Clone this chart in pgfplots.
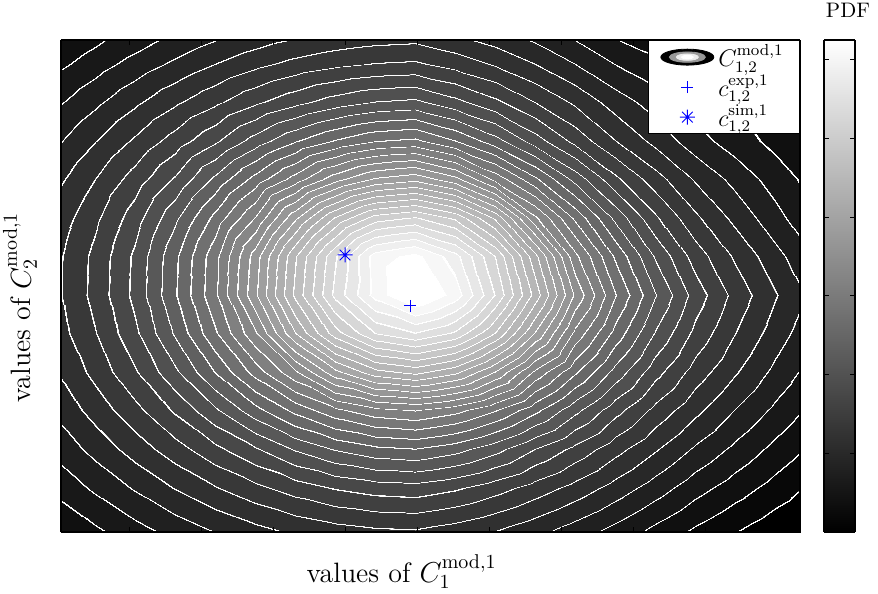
\documentclass[border=0pt]{standalone}
\usepackage{pgfplots}
\pgfplotsset{compat=1.18}

% 8-armed asterisk as in the original figure
\pgfdeclareplotmark{star8}{%
  \pgfpathmoveto{\pgfqpoint{0pt}{\pgfplotmarksize}}\pgfpathlineto{\pgfqpoint{0pt}{-\pgfplotmarksize}}%
  \pgfpathmoveto{\pgfqpoint{\pgfplotmarksize}{0pt}}\pgfpathlineto{\pgfqpoint{-\pgfplotmarksize}{0pt}}%
  \pgfpathmoveto{\pgfqpoint{0.707\pgfplotmarksize}{0.707\pgfplotmarksize}}\pgfpathlineto{\pgfqpoint{-0.707\pgfplotmarksize}{-0.707\pgfplotmarksize}}%
  \pgfpathmoveto{\pgfqpoint{-0.707\pgfplotmarksize}{0.707\pgfplotmarksize}}\pgfpathlineto{\pgfqpoint{0.707\pgfplotmarksize}{-0.707\pgfplotmarksize}}%
  \pgfusepathqstroke}

% stepped gray map, a thin white band at every contour level (pos = level + 3)
\pgfplotsset{colormap={contourgray}{
gray(0pt)=(0)
gray(3.975pt)=(0) gray(3.98pt)=(1) gray(4.025pt)=(1) gray(4.03pt)=(0.03125)
gray(4.975pt)=(0.03125) gray(4.98pt)=(1) gray(5.025pt)=(1) gray(5.03pt)=(0.0625)
gray(5.975pt)=(0.0625) gray(5.98pt)=(1) gray(6.025pt)=(1) gray(6.03pt)=(0.09375)
gray(6.975pt)=(0.09375) gray(6.98pt)=(1) gray(7.025pt)=(1) gray(7.03pt)=(0.125)
gray(7.975pt)=(0.125) gray(7.98pt)=(1) gray(8.025pt)=(1) gray(8.03pt)=(0.15625)
gray(8.97pt)=(0.15625) gray(8.975pt)=(1) gray(9.03pt)=(1) gray(9.035pt)=(0.1875)
gray(9.97pt)=(0.1875) gray(9.975pt)=(1) gray(10.03pt)=(1) gray(10.035pt)=(0.21875)
gray(10.97pt)=(0.21875) gray(10.975pt)=(1) gray(11.03pt)=(1) gray(11.035pt)=(0.25)
gray(11.96pt)=(0.25) gray(11.965pt)=(1) gray(12.04pt)=(1) gray(12.045pt)=(0.28125)
gray(12.96pt)=(0.28125) gray(12.965pt)=(1) gray(13.04pt)=(1) gray(13.045pt)=(0.3125)
gray(13.96pt)=(0.3125) gray(13.965pt)=(1) gray(14.04pt)=(1) gray(14.045pt)=(0.34375)
gray(14.96pt)=(0.34375) gray(14.965pt)=(1) gray(15.04pt)=(1) gray(15.045pt)=(0.375)
gray(15.945pt)=(0.375) gray(15.95pt)=(1) gray(16.055pt)=(1) gray(16.06pt)=(0.40625)
gray(16.945pt)=(0.40625) gray(16.95pt)=(1) gray(17.055pt)=(1) gray(17.06pt)=(0.4375)
gray(17.945pt)=(0.4375) gray(17.95pt)=(1) gray(18.055pt)=(1) gray(18.06pt)=(0.46875)
gray(18.945pt)=(0.46875) gray(18.95pt)=(1) gray(19.055pt)=(1) gray(19.06pt)=(0.5)
gray(19.945pt)=(0.5) gray(19.95pt)=(1) gray(20.055pt)=(1) gray(20.06pt)=(0.53125)
gray(20.93pt)=(0.53125) gray(20.935pt)=(1) gray(21.07pt)=(1) gray(21.075pt)=(0.5625)
gray(21.93pt)=(0.5625) gray(21.935pt)=(1) gray(22.07pt)=(1) gray(22.075pt)=(0.59375)
gray(22.93pt)=(0.59375) gray(22.935pt)=(1) gray(23.07pt)=(1) gray(23.075pt)=(0.625)
gray(23.93pt)=(0.625) gray(23.935pt)=(1) gray(24.07pt)=(1) gray(24.075pt)=(0.65625)
gray(24.93pt)=(0.65625) gray(24.935pt)=(1) gray(25.07pt)=(1) gray(25.075pt)=(0.6875)
gray(25.93pt)=(0.6875) gray(25.935pt)=(1) gray(26.07pt)=(1) gray(26.075pt)=(0.71875)
gray(26.93pt)=(0.71875) gray(26.935pt)=(1) gray(27.07pt)=(1) gray(27.075pt)=(0.75)
gray(27.93pt)=(0.75) gray(27.935pt)=(1) gray(28.07pt)=(1) gray(28.075pt)=(0.78125)
gray(28.93pt)=(0.78125) gray(28.935pt)=(1) gray(29.07pt)=(1) gray(29.075pt)=(0.8125)
gray(29.93pt)=(0.8125) gray(29.935pt)=(1) gray(30.07pt)=(1) gray(30.075pt)=(0.84375)
gray(30.93pt)=(0.84375) gray(30.935pt)=(1) gray(31.07pt)=(1) gray(31.075pt)=(0.875)
gray(31.93pt)=(0.875) gray(31.935pt)=(1) gray(32.07pt)=(1) gray(32.075pt)=(0.90625)
gray(32.93pt)=(0.90625) gray(32.935pt)=(1) gray(33.07pt)=(1) gray(33.075pt)=(0.9375)
gray(33.93pt)=(0.9375) gray(33.935pt)=(1) gray(34.07pt)=(1) gray(34.075pt)=(0.96875)
gray(34.995pt)=(0.96875) gray(35pt)=(1)
gray(38pt)=(1)
}}

\begin{document}
\begin{tikzpicture}
% filled contour field
\begin{axis}[
    at={(0pt,0pt)}, anchor=south west,
    scale only axis,
    width=369.5pt, height=246pt,
    view={0}{90},
    xmin=0.15, xmax=18.625,
    ymin=0.844, ymax=13.623,
    zmin=-5, zmax=40,
    xtick={1.85,3.65,5.45,7.25,9.05,10.85,12.65,14.45,16.25,18.05},
    xticklabels={},
    ytick=\empty, ztick=\empty,
    tick align=inside,
    major tick length=2.5pt,
    tick style={black, line width=0.4pt},
    axis line style={line width=0.6pt},
    colormap name=contourgray,
    point meta min=-3, point meta max=35,
    clip=true,
    xlabel={values of $C_1^{\mathrm{mod},1}$},
    ylabel={values of $C_2^{\mathrm{mod},1}$},
    label style={font=\fontsize{14}{17}\selectfont},
    xlabel style={at={(axis description cs:0.461,-0.0813)}, anchor=center},
    ylabel style={at={(axis description cs:-0.0555,0.457)}, anchor=center},
]
% PDF values on the grid (columns every 40 px, rows every 38.5 px)
\addplot3[surf, shader=interp] coordinates {
(0,0,1.14) (1,0,1.84) (2,0,2.49) (3,0,3.09) (4,0,3.70) (5,0,4.21) (6,0,4.63) (7,0,4.93) (8,0,5.13) (9,0,5.20) (10,0,4.84) (11,0,4.35) (12,0,3.74) (13,0,3.01) (14,0,2.29) (15,0,1.48) (16,0,0.66) (17,0,0.01) (18,0,-0.65) (19,0,-1.28)

(0,1,2.21) (1,1,2.97) (2,1,3.79) (3,1,4.55) (4,1,5.26) (5,1,5.90) (6,1,6.44) (7,1,6.85) (8,1,7.10) (9,1,7.18) (10,1,6.81) (11,1,6.26) (12,1,5.56) (13,1,4.75) (14,1,3.88) (15,1,2.92) (16,1,2.01) (17,1,1.22) (18,1,0.48) (19,1,-0.22)

(0,2,3.23) (1,2,4.19) (2,2,5.11) (3,2,6.05) (4,2,6.92) (5,2,7.72) (6,2,8.46) (7,2,9.07) (8,2,9.45) (9,2,9.58) (10,2,9.15) (11,2,8.43) (12,2,7.56) (13,2,6.63) (14,2,5.59) (15,2,4.51) (16,2,3.40) (17,2,2.49) (18,2,1.61) (19,2,0.73)

(0,3,4.27) (1,3,5.34) (2,3,6.46) (3,3,7.56) (4,3,8.73) (5,3,9.87) (6,3,11.11) (7,3,12.09) (8,3,12.74) (9,3,12.97) (10,3,12.39) (11,3,11.37) (12,3,9.99) (13,3,8.71) (14,3,7.38) (15,3,6.12) (16,3,4.85) (17,3,3.76) (18,3,2.71) (19,3,1.73)

(0,4,5.16) (1,4,6.42) (2,4,7.69) (3,4,9.17) (4,4,10.83) (5,4,12.64) (6,4,14.32) (7,4,15.75) (8,4,16.71) (9,4,17.06) (10,4,16.38) (11,4,15.09) (12,4,13.29) (13,4,11.30) (14,4,9.38) (15,4,7.71) (16,4,6.28) (17,4,4.97) (18,4,3.79) (19,4,2.64)

(0,5,5.94) (1,5,7.31) (2,5,8.89) (3,5,10.79) (4,5,13.04) (5,5,15.41) (6,5,17.81) (7,5,20.69) (8,5,22.63) (9,5,23.30) (10,5,22.25) (11,5,19.94) (12,5,16.76) (13,5,14.16) (14,5,11.64) (15,5,9.38) (16,5,7.56) (17,5,6.11) (18,5,4.74) (19,5,3.47)

(0,6,6.48) (1,6,7.95) (2,6,9.79) (3,6,12.16) (4,6,14.85) (5,6,17.83) (6,6,21.98) (7,6,25.56) (8,6,28.03) (9,6,28.98) (10,6,27.82) (11,6,24.98) (12,6,20.92) (13,6,16.72) (14,6,13.66) (15,6,10.94) (16,6,8.73) (17,6,7.02) (18,6,5.53) (19,6,4.17)

(0,7,6.75) (1,7,8.33) (2,7,10.30) (3,7,12.90) (4,7,15.80) (5,7,19.80) (6,7,24.24) (7,7,28.30) (8,7,31.40) (9,7,33.40) (10,7,31.60) (11,7,27.95) (12,7,23.59) (13,7,18.81) (14,7,15.08) (15,7,12.08) (16,7,9.57) (17,7,7.66) (18,7,6.09) (19,7,4.65)

(0,8,6.71) (1,8,8.27) (2,8,10.21) (3,8,12.78) (4,8,15.66) (5,8,19.49) (6,8,23.88) (7,8,27.87) (8,8,31.50) (9,8,32.35) (10,8,30.39) (11,8,26.98) (12,8,22.29) (13,8,17.27) (14,8,13.84) (15,8,10.89) (16,8,8.55) (17,8,6.84) (18,8,5.34) (19,8,3.98)

(0,9,6.34) (1,9,7.78) (2,9,9.55) (3,9,11.79) (4,9,14.33) (5,9,17.07) (6,9,20.82) (7,9,24.14) (8,9,26.51) (9,9,27.14) (10,9,25.82) (11,9,22.85) (12,9,18.23) (13,9,14.79) (14,9,11.75) (15,9,9.19) (16,9,7.22) (17,9,5.72) (18,9,4.36) (19,9,3.06)

(0,10,5.67) (1,10,7.00) (2,10,8.46) (3,10,10.13) (4,10,12.24) (5,10,14.38) (6,10,16.46) (7,10,18.63) (8,10,20.16) (9,10,20.71) (10,10,19.35) (11,10,16.70) (12,10,14.22) (13,10,11.64) (14,10,9.26) (15,10,7.44) (16,10,5.89) (17,10,4.68) (18,10,3.55) (19,10,2.56)

(0,11,4.79) (1,11,5.97) (2,11,7.18) (3,11,8.46) (4,11,9.84) (5,11,11.45) (6,11,12.92) (7,11,14.11) (8,11,14.98) (9,11,15.26) (10,11,14.05) (11,11,12.45) (12,11,10.51) (13,11,8.69) (14,11,7.04) (15,11,5.71) (16,11,4.44) (17,11,3.50) (18,11,2.71) (19,11,1.91)

(0,12,3.78) (1,12,4.78) (2,12,5.81) (3,12,6.83) (4,12,7.79) (5,12,8.81) (6,12,9.69) (7,12,10.48) (8,12,11.04) (9,12,11.24) (10,12,10.32) (11,12,9.25) (12,12,7.99) (13,12,6.81) (14,12,5.53) (15,12,4.55) (16,12,3.56) (17,12,2.95) (18,12,2.33) (19,12,1.78)

(0,13,2.68) (1,13,3.54) (2,13,4.40) (3,13,5.22) (4,13,6.01) (5,13,6.72) (6,13,7.32) (7,13,7.76) (8,13,8.06) (9,13,8.17) (10,13,7.61) (11,13,6.89) (12,13,6.01) (13,13,5.01) (14,13,3.99) (15,13,3.28) (16,13,2.65) (17,13,2.21) (18,13,1.88) (19,13,1.51)

(0,14,1.58) (1,14,2.30) (2,14,2.97) (3,14,3.68) (4,14,4.32) (5,14,4.86) (6,14,5.30) (7,14,5.65) (8,14,5.87) (9,14,5.98) (10,14,5.51) (11,14,4.89) (12,14,4.18) (13,14,3.36) (14,14,2.49) (15,14,2.10) (16,14,1.69) (17,14,1.51) (18,14,1.32) (19,14,1.20)
};
\end{axis}

% markers and legend on a 2D overlay with the same limits
\begin{axis}[
    at={(0pt,0pt)}, anchor=south west,
    scale only axis,
    width=369.5pt, height=246pt,
    xmin=0.15, xmax=18.625,
    ymin=0.844, ymax=13.623,
    hide axis,
    legend style={at={(1,1)}, anchor=north east, draw=black, fill=white,
        line width=0.4pt, font=\fontsize{11.5}{13}\selectfont,
        inner xsep=6pt, inner ysep=0pt, row sep=-1.5pt},
    legend cell align=left,
]
\addlegendimage{legend image code/.code={
    \fill[black] (0.3cm,0cm) ellipse [x radius=13.25pt, y radius=4pt];
    \fill[gray!80] (0.3cm,0cm) ellipse [x radius=9pt, y radius=2.6pt];
    \fill[gray!15] (0.3cm,0cm) ellipse [x radius=5.5pt, y radius=1.6pt];
    \fill[white] (0.3cm,0cm) ellipse [x radius=3pt, y radius=0.9pt];
}}
\addlegendentry{$C^{\mathrm{mod},1}_{1,2}$}

\addplot[only marks, color=blue, mark=+, mark size=3pt, mark options={line width=0.5pt, draw=blue},
    legend image code/.code={
        \draw[blue, line width=0.5pt] (0.3cm,-3pt) -- (0.3cm,3pt) (0.3cm-3pt,0cm) -- (0.3cm+3pt,0cm);
    }]
    coordinates {(8.875,6.714)};
\addlegendentry{$c^{\mathrm{exp},1}_{1,2}$}

\addplot[only marks, color=blue, mark=star8, mark size=3.75pt, mark options={line width=0.5pt, draw=blue}]
    coordinates {(7.25,8.039)};
\addlegendentry{$c^{\mathrm{sim},1}_{1,2}$}
\end{axis}

% colour bar
\begin{axis}[
    at={(381.5pt,0pt)}, anchor=south west,
    scale only axis,
    width=15.5pt, height=246pt,
    view={0}{90},
    xmin=0, xmax=1, ymin=0, ymax=1,
    xtick=\empty, ztick=\empty,
    ytick={0.16,0.32,0.48,0.64,0.8,0.96},
    yticklabels={},
    tick align=inside,
    major tick length=2.5pt,
    tick style={black, line width=0.4pt},
    axis line style={line width=0.6pt},
    colormap/blackwhite,
]
\addplot3[surf, shader=interp] coordinates {
(0,0,0) (1,0,0)

(0,1,1) (1,1,1)
};
\end{axis}
\node[anchor=base, inner sep=0pt, font=\fontsize{10.5}{12}\selectfont] at (393.5pt,257pt) {PDF};

\pgfresetboundingbox
\path (-30.5pt,-31pt) rectangle (408.5pt,266pt);
\end{tikzpicture}
\end{document}
